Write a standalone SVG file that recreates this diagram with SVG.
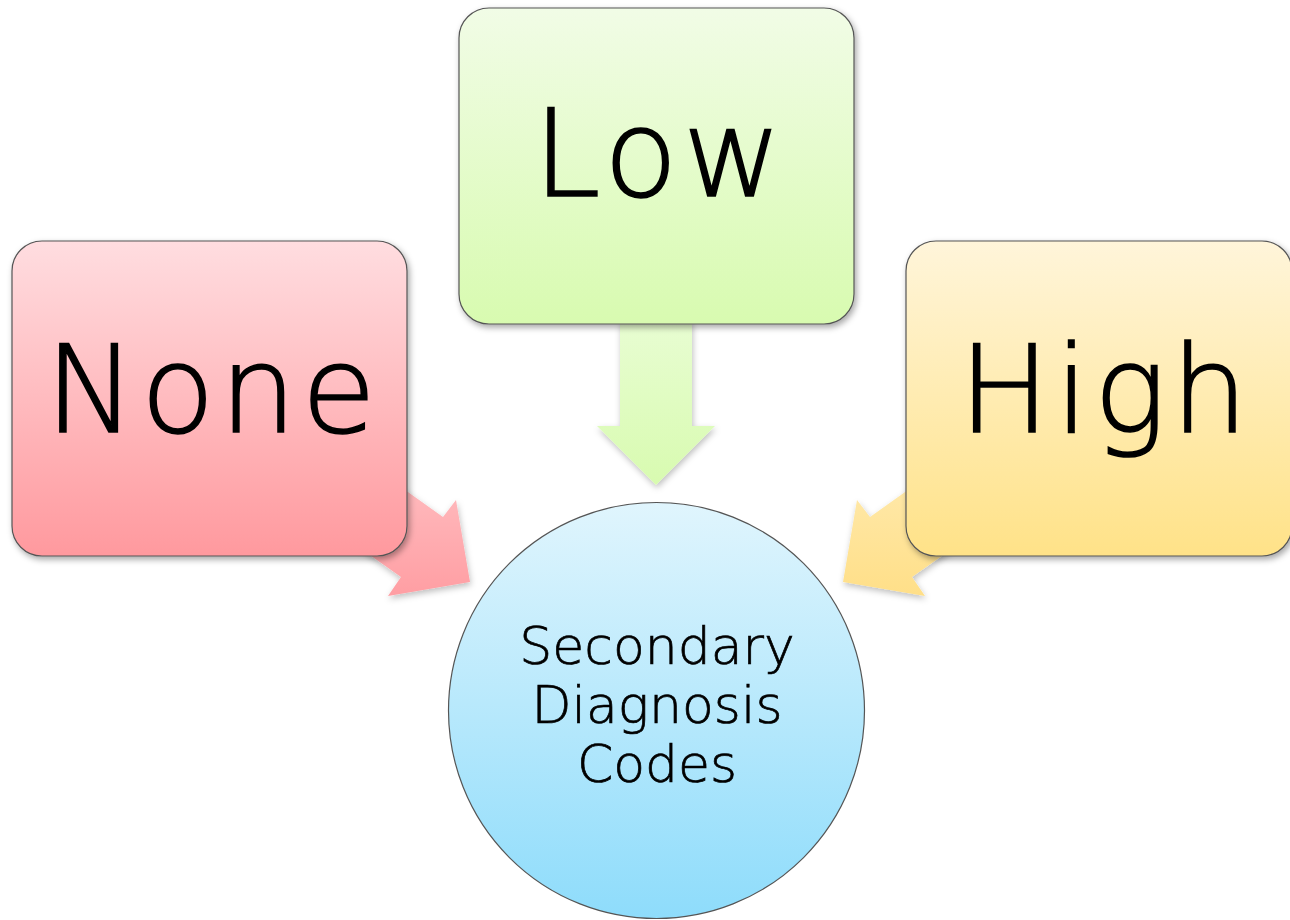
<svg xmlns="http://www.w3.org/2000/svg" width="1290" height="920" viewBox="0 0 1290 920">
<style>
.box{stroke:#555;stroke-width:1.2;filter:url(#sh)}
.arr{filter:url(#sh2)}
.big{font-family:"DejaVu Sans","Liberation Sans",sans-serif;font-weight:200;font-size:121px;fill:#000;stroke:#000;stroke-width:1.6;letter-spacing:5px;text-anchor:middle}
.sm{font-family:"DejaVu Sans","Liberation Sans",sans-serif;font-weight:200;font-size:52px;fill:#000;stroke:#000;stroke-width:0.7;text-anchor:middle}
</style>
<defs>
<filter id="sh" x="-10%" y="-10%" width="130%" height="130%"><feDropShadow dx="2" dy="3" stdDeviation="3" flood-color="#000" flood-opacity="0.35"/></filter>
<filter id="sh2" x="-20%" y="-20%" width="150%" height="150%"><feDropShadow dx="1" dy="3" stdDeviation="3" flood-color="#000" flood-opacity="0.25"/></filter>
<linearGradient id="gNone" x1="0" y1="0" x2="0" y2="1"><stop offset="0" stop-color="#ffdde0"/><stop offset="1" stop-color="#ff999e"/></linearGradient>
<linearGradient id="gLow" x1="0" y1="0" x2="0" y2="1"><stop offset="0" stop-color="#f1fce6"/><stop offset="1" stop-color="#d8fbb0"/></linearGradient>
<linearGradient id="gHigh" x1="0" y1="0" x2="0" y2="1"><stop offset="0" stop-color="#fff5da"/><stop offset="1" stop-color="#ffe288"/></linearGradient>
<linearGradient id="gCirc" x1="0" y1="0" x2="0" y2="1"><stop offset="0" stop-color="#e0f5fd"/><stop offset="1" stop-color="#8edcfb"/></linearGradient>
<linearGradient id="gAG" x1="0" y1="0" x2="0" y2="1"><stop offset="0" stop-color="#e8fdd2"/><stop offset="1" stop-color="#d8fbb0"/></linearGradient>
<linearGradient id="gAP" x1="0" y1="0" x2="0" y2="1"><stop offset="0" stop-color="#ffbfc2"/><stop offset="1" stop-color="#ff9ea3"/></linearGradient>
<linearGradient id="gAY" x1="0" y1="0" x2="0" y2="1"><stop offset="0" stop-color="#ffeaae"/><stop offset="1" stop-color="#ffdf88"/></linearGradient>
</defs>
<g id="connectors">
<polygon class="arr" fill="url(#gAG)" points="620,320 692,320 692,426 715,426 656,485 597,426 620,426"/>
<polygon class="arr" fill="url(#gAP)" points="370,465 443,517 456,500 470,582 388,596 401,577 330,527"/>
<polygon class="arr" fill="url(#gAY)" points="943,465 870,517 857,500 843,582 925,596 912,577 983,527"/>
</g>
<g id="center">
<circle cx="656.5" cy="710.5" r="208" fill="url(#gCirc)" stroke="#555" stroke-width="1.2"/>
<text class="sm" x="657" y="664">Secondary</text>
<text class="sm" x="657" y="723">Diagnosis</text>
<text class="sm" x="657" y="782">Codes</text>
</g>
<g id="low">
<rect class="box" x="459" y="8" width="395" height="316" rx="30" fill="url(#gLow)"/>
<text class="big" x="660" y="196">Low</text>
</g>
<g id="none">
<rect class="box" x="12" y="241" width="395" height="315" rx="30" fill="url(#gNone)"/>
<text class="big" x="213" y="432">None</text>
</g>
<g id="high">
<rect class="box" x="906" y="241" width="386" height="315" rx="30" fill="url(#gHigh)"/>
<text class="big" x="1106" y="432">High</text>
</g>
</svg>
